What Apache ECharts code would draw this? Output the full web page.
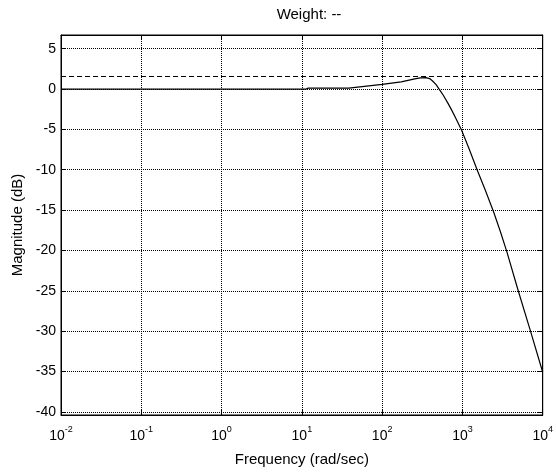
<!DOCTYPE html>
<html>
<head>
<meta charset="utf-8">
<script src="https://cdn.jsdelivr.net/npm/echarts@6/dist/echarts.min.js"></script>
<style>
  html, body { margin: 0; padding: 0; background: #fff; }
  #chart { width: 556px; height: 472px; }
</style>
</head>
<body>
<div id="chart"></div>
<script>
// frequency response (rad/sec, dB)
var freqs = [0.01, 11.3, 12.0, 38.4, 40.6, 100, 172.6, 263.6, 300, 351.6, 390, 425, 470, 513, 580, 651, 730, 824, 977, 1200, 1523, 1929, 2441, 2953, 3571, 4955, 7046, 10000];
var magDb = [0, 0, 0.12, 0.12, 0.3, 0.57, 0.9, 1.3, 1.38, 1.42, 1.3, 1.0, 0.55, 0, -0.8, -1.65, -2.55, -3.6, -5.1, -7.3, -10, -12.55, -15.2, -17.6, -20.15, -25, -30, -35.1];
var peakLine = 1.64;
var xLimits = [0.01, 10000];
var yLimits = [-40.4, 6.7];

var font = 'Liberation Sans, Arial, Helvetica, sans-serif';

var lineData = freqs.map(function (f, i) {
  return [f, magDb[i]];
});

function expLabel(v) {
  var e = Math.round(Math.log(v) / Math.LN10);
  return '{b|10}{s|' + e + '}';
}

function yLabel(v) {
  // only label the multiples of 5, the limits are not labelled
  if (Math.abs(v % 5) > 1e-6) return '';
  return String(Math.round(v));
}

var tickStyle = { show: true, inside: true, length: 5, lineStyle: { color: '#000', width: 1 } };
var axisLineStyle = { show: true, onZero: false, lineStyle: { color: '#000', width: 1 } };
var gridLine = { show: true, lineStyle: { color: '#000', width: 1, type: [1, 1] } };

var chart = echarts.init(document.getElementById('chart'));
chart.setOption({
  backgroundColor: '#fff',
  animation: false,
  textStyle: { fontFamily: font },
  title: {
    text: 'Weight: --',
    left: 304,
    textAlign: 'center',
    top: 2,
    textStyle: { fontSize: 15, fontWeight: 'normal', color: '#000', fontFamily: font }
  },
  grid: {
    left: 61,
    right: 8,
    top: 35,
    bottom: 55,
    show: true,
    borderColor: '#000',
    borderWidth: 1,
    backgroundColor: '#fff'
  },
  xAxis: [
    {
      type: 'log',
      logBase: 10,
      min: xLimits[0],
      max: xLimits[1],
      splitNumber: 6,
      position: 'bottom',
      name: 'Frequency (rad/sec)',
      nameLocation: 'middle',
      nameGap: 37,
      nameTextStyle: { fontSize: 15, color: '#000', fontFamily: font },
      axisLine: axisLineStyle,
      axisTick: tickStyle,
      minorTick: { show: false },
      splitLine: gridLine,
      axisLabel: {
        color: '#000',
        margin: 10,
        formatter: expLabel,
        rich: {
          b: { fontSize: 14, color: '#000', fontFamily: font, verticalAlign: 'bottom' },
          s: { fontSize: 9, color: '#000', fontFamily: font, verticalAlign: 'bottom', padding: [0, 0, 9, 0] }
        }
      }
    },
    {
      type: 'log',
      logBase: 10,
      min: xLimits[0],
      max: xLimits[1],
      splitNumber: 6,
      position: 'top',
      axisLine: axisLineStyle,
      axisTick: tickStyle,
      splitLine: { show: false },
      axisLabel: { show: false }
    }
  ],
  yAxis: [
    {
      type: 'value',
      min: yLimits[0],
      max: yLimits[1],
      splitNumber: 9,
      position: 'left',
      name: 'Magnitude (dB)',
      nameLocation: 'middle',
      nameGap: 36,
      nameTextStyle: { fontSize: 15, color: '#000', fontFamily: font },
      axisLine: axisLineStyle,
      axisTick: tickStyle,
      splitLine: gridLine,
      axisLabel: { color: '#000', fontSize: 14, margin: 5, fontFamily: font, formatter: yLabel, showMinLabel: false, showMaxLabel: false }
    },
    {
      type: 'value',
      min: yLimits[0],
      max: yLimits[1],
      splitNumber: 9,
      position: 'right',
      axisLine: axisLineStyle,
      axisTick: tickStyle,
      splitLine: { show: false },
      axisLabel: { show: false }
    }
  ],
  series: [
    {
      type: 'line',
      data: lineData,
      xAxisIndex: 0,
      yAxisIndex: 0,
      showSymbol: false,
      symbol: 'none',
      lineStyle: { color: '#000', width: 1.2 },
      markLine: {
        silent: true,
        symbol: 'none',
        label: { show: false },
        lineStyle: { color: '#000', width: 1, type: [5, 3] },
        data: [{ yAxis: peakLine }]
      }
    }
  ]
});
</script>
</body>
</html>
